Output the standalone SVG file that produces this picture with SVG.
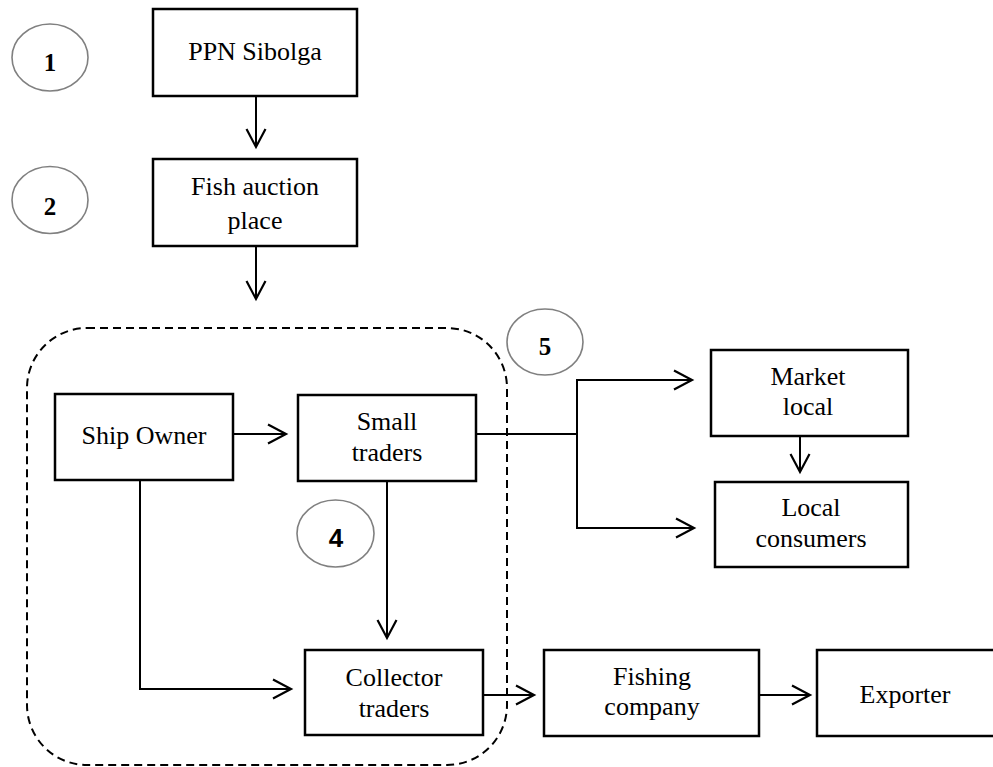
<svg xmlns="http://www.w3.org/2000/svg" width="993" height="767" viewBox="0 0 993 767">
<style>
.box{fill:#fff;stroke:#000;stroke-width:2.5}
.t{font-family:"Liberation Serif","Times New Roman",serif;font-size:26px;fill:#000;text-anchor:middle}
.num{font-family:"Liberation Serif","Times New Roman",serif;font-size:25px;font-weight:bold;fill:#000;text-anchor:middle}
.nums{font-family:"Liberation Sans",Arial,sans-serif;font-size:26px;font-weight:bold;fill:#000;text-anchor:middle}
.ell{fill:#fff;stroke:#808080;stroke-width:1.6}
.c{fill:none;stroke:#000;stroke-width:2}
.dash{fill:none;stroke:#000;stroke-width:2;stroke-dasharray:8 5}
</style>
<defs>
<marker id="ah" markerUnits="userSpaceOnUse" markerWidth="24" markerHeight="24" viewBox="-20 -12 24 24" refX="0" refY="0" orient="auto">
<path d="M-18,-9.5 L0,0 L-18,9.5" fill="none" stroke="#000" stroke-width="2.2"/>
</marker>
</defs>
<rect width="993" height="767" fill="#fff"/>
<g id="container"><rect class="dash" x="27" y="328" width="480" height="437" rx="60" ry="60"/></g>
<g id="connectors">
<line class="c" x1="256" y1="96" x2="256" y2="147" marker-end="url(#ah)"/>
<line class="c" x1="256" y1="246" x2="256" y2="299" marker-end="url(#ah)"/>
<line class="c" x1="234" y1="434" x2="286" y2="434" marker-end="url(#ah)"/>
<polyline class="c" points="140,481 140,689 291,689" marker-end="url(#ah)"/>
<line class="c" x1="387" y1="482" x2="387" y2="638" marker-end="url(#ah)"/>
<line class="c" x1="477" y1="434" x2="577" y2="434"/>
<polyline class="c" points="577,380 577,528"/>
<line class="c" x1="576" y1="380" x2="692" y2="380" marker-end="url(#ah)"/>
<line class="c" x1="576" y1="528" x2="694" y2="528" marker-end="url(#ah)"/>
<line class="c" x1="800" y1="437" x2="800" y2="472" marker-end="url(#ah)"/>
<line class="c" x1="484" y1="695" x2="534" y2="695" marker-end="url(#ah)"/>
<line class="c" x1="760" y1="695" x2="810" y2="695" marker-end="url(#ah)"/>
</g>
<g id="n1"><ellipse class="ell" cx="50" cy="57.5" rx="38" ry="33.5"/><text class="num" x="50" y="71">1</text></g>
<g id="n2"><ellipse class="ell" cx="50" cy="200" rx="38" ry="33.5"/><text class="num" x="50" y="215">2</text></g>
<g id="n4"><ellipse class="ell" cx="335.5" cy="533.5" rx="38.5" ry="33.5"/><text class="nums" x="336" y="547">4</text></g>
<g id="n5"><ellipse class="ell" cx="545" cy="342" rx="38" ry="33"/><text class="num" x="545" y="355">5</text></g>
<g id="ppn"><rect class="box" x="153" y="9" width="204" height="87"/><text class="t" x="255" y="60">PPN Sibolga</text></g>
<g id="auction"><rect class="box" x="153" y="159" width="204" height="87"/><text class="t" x="255" y="195">Fish auction</text><text class="t" x="255" y="229">place</text></g>
<g id="shipowner"><rect class="box" x="55" y="394" width="178" height="86"/><text class="t" x="144" y="444">Ship Owner</text></g>
<g id="small"><rect class="box" x="298" y="395" width="178" height="86"/><text class="t" x="387" y="430">Small</text><text class="t" x="387" y="461">traders</text></g>
<g id="collector"><rect class="box" x="305" y="650" width="178" height="85"/><text class="t" x="394" y="686">Collector</text><text class="t" x="394" y="717">traders</text></g>
<g id="market"><rect class="box" x="711" y="350" width="197" height="86"/><text class="t" x="808" y="385">Market</text><text class="t" x="808" y="415">local</text></g>
<g id="consumers"><rect class="box" x="715" y="482" width="193" height="85"/><text class="t" x="811" y="516">Local</text><text class="t" x="811" y="547">consumers</text></g>
<g id="fishing"><rect class="box" x="544" y="650" width="215" height="86"/><text class="t" x="652" y="685">Fishing</text><text class="t" x="652" y="715">company</text></g>
<g id="exporter"><rect class="box" x="817" y="650" width="180" height="86"/><text class="t" x="905" y="703">Exporter</text></g>
</svg>
